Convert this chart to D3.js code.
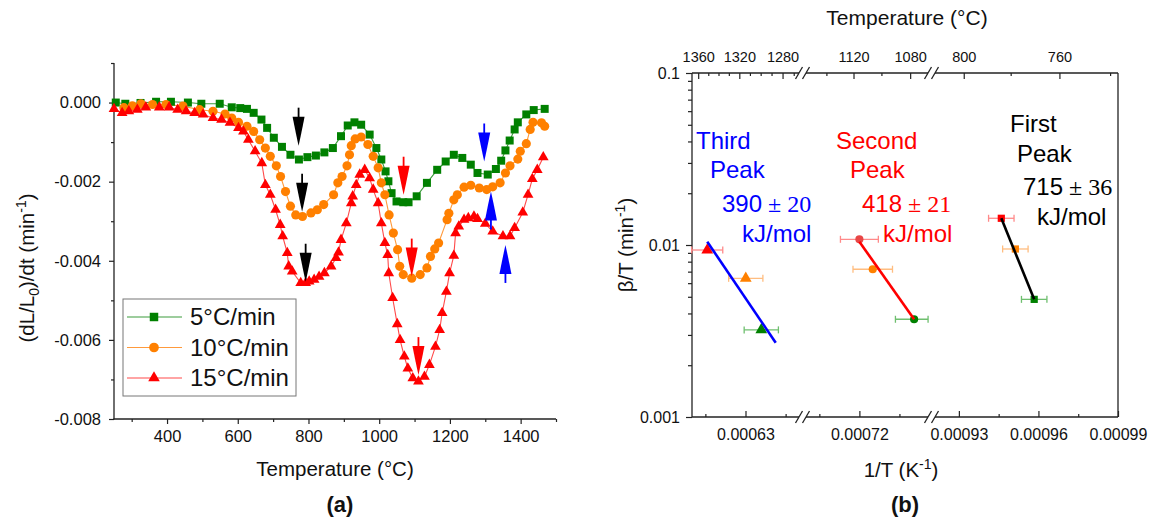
<!DOCTYPE html>
<html>
<head>
<meta charset="utf-8">
<script src="https://cdn.jsdelivr.net/npm/d3@7"></script>
<style>
  body { margin: 0; background: #fff; }
  svg { display: block; }
</style>
</head>
<body>
<svg id="chart" width="1152" height="525"></svg>
<script>
// ---------- data: panel (a), [temperature °C, (dL/L0)/dt] ----------
const rate5 = [[255,0],[282,-0.00003],[325,-0.00001],[369,0.00002],[411,0.00002],[459,0],[497,-0.00003],[549,-0.00003],
  [583,-0.00012],[607,-0.00014],[626,-0.00016],[645,-0.00026],[667,-0.00043],[683,-0.00064],[702,-0.00089],[725,-0.00112],
  [749,-0.00132],[773,-0.00144],[797,-0.00138],[821,-0.00134],[845,-0.00126],[869,-0.00115],[892,-0.00085],[911,-0.00058],
  [930,-0.0005],[949,-0.00056],[973,-0.00081],[992,-0.00115],[1006,-0.00144],[1018,-0.00174],[1026,-0.00199],[1035,-0.00229],
  [1049,-0.0025],[1068,-0.00252],[1083,-0.00252],[1106,-0.00237],[1135,-0.00203],[1164,-0.0017],[1188,-0.00149],[1211,-0.00132],
  [1235,-0.0014],[1259,-0.00157],[1278,-0.00178],[1307,-0.00182],[1330,-0.00168],[1345,-0.00147],[1357,-0.00121],[1369,-0.00096],
  [1383,-0.00068],[1392,-0.0005],[1416,-0.0003],[1437,-0.00019],[1468,-0.00016]];

const rate10 = [[278,-0.00013],[302,-0.00008],[326,-0.00003],[359,-0.00005],[397,-0.00005],[445,-0.00009],[492,-0.00018],
  [530,-0.00022],[564,-0.00029],[583,-0.00039],[602,-0.0005],[626,-0.0006],[645,-0.00073],[662,-0.00094],[678,-0.00115],
  [692,-0.00136],[709,-0.0016],[721,-0.00187],[735,-0.00225],[749,-0.00262],[764,-0.00284],[783,-0.00288],[807,-0.00279],
  [825,-0.00271],[843,-0.00258],[871,-0.00233],[883,-0.00203],[895,-0.00187],[909,-0.0016],[916,-0.00132],[921,-0.00109],
  [932,-0.00092],[949,-0.00087],[968,-0.00106],[983,-0.00136],[997,-0.00165],[1006,-0.00203],[1016,-0.00233],[1028,-0.00284],
  [1040,-0.0033],[1052,-0.00372],[1058,-0.00414],[1068,-0.00435],[1092,-0.00444],[1116,-0.00435],[1135,-0.00418],
  [1145,-0.00389],[1157,-0.0037],[1168,-0.00355],[1192,-0.00296],[1197,-0.0028],[1211,-0.00246],[1221,-0.00233],
  [1240,-0.00214],[1259,-0.00209],[1283,-0.00216],[1304,-0.0022],[1321,-0.00213],[1342,-0.00203],[1357,-0.00178],
  [1370,-0.0016],[1392,-0.00143],[1399,-0.00123],[1416,-0.00104],[1427,-0.00068],[1435,-0.0005],[1459,-0.00051],[1468,-0.0006]];

const rate15 = [[250,-0.00016],[273,-0.00026],[292,-0.00022],[316,-0.00018],[340,-0.00012],[378,-0.00012],[406,-0.00012],
  [430,-0.00018],[454,-0.00022],[478,-0.00026],[502,-0.0003],[530,-0.00039],[554,-0.00043],[578,-0.00051],[602,-0.00064],
  [616,-0.00073],[630,-0.00094],[649,-0.00123],[668,-0.00153],[678,-0.00208],[692,-0.00233],[707,-0.00271],[720,-0.00309],
  [727,-0.00338],[740,-0.0038],[744,-0.00414],[754,-0.00427],[778,-0.00456],[792,-0.00456],[802,-0.00452],[816,-0.00448],
  [830,-0.0044],[845,-0.00431],[864,-0.00414],[878,-0.00393],[885,-0.00379],[892,-0.00347],[907,-0.00305],[921,-0.00254],
  [925,-0.00237],[935,-0.00208],[945,-0.00182],[959,-0.0017],[973,-0.00191],[983,-0.0022],[997,-0.00254],[1006,-0.00305],
  [1016,-0.00355],[1024,-0.00385],[1027,-0.00431],[1038,-0.00494],[1051,-0.0056],[1059,-0.006],[1071,-0.00642],
  [1081,-0.00672],[1095,-0.00697],[1111,-0.00705],[1128,-0.00693],[1142,-0.00663],[1159,-0.00617],[1171,-0.00575],
  [1178,-0.00532],[1190,-0.00478],[1199,-0.00431],[1211,-0.00387],[1216,-0.0033],[1225,-0.00313],[1240,-0.00296],
  [1252,-0.00292],[1268,-0.00288],[1278,-0.00294],[1300,-0.00306],[1321,-0.00326],[1350,-0.00338],[1370,-0.00338],
  [1383,-0.00317],[1406,-0.00278],[1421,-0.00233],[1433,-0.00193],[1447,-0.0017],[1464,-0.00138]];

// peak arrows: [temperature, tip value, direction (1 = points down, -1 = points up)]
const arrowsBlack = [[772,-0.00109,1],[782,-0.00276,1],[792,-0.00453,1]];
const arrowsRed   = [[1069,-0.00233,1],[1092,-0.0044,1],[1111,-0.00689,1]];
const arrowsBlue  = [[1297,-0.00149,1],[1316,-0.00225,-1],[1357,-0.0036,-1]];

const xTicksA = [400,600,800,1000,1200,1400];
const xMinorA = [300,500,700,900,1100,1300,1500];
const yTicksA = [0,-0.002,-0.004,-0.006,-0.008];
const yMinorA = [0.001,-0.001,-0.003,-0.005,-0.007];
const legendLabels = ["5°C/min","10°C/min","15°C/min"];

// ---------- data: panel (b), Kissinger-type plot ----------
// 1/T (K^-1), beta/T (min^-1), half-width of the 1/T error bar
const thirdX = [0.0006157, 0.0006301, 0.0006359];
const thirdY = [0.00935, 0.0064, 0.00321];
const thirdErr = [0.0000058, 0.0000064, 0.0000064];
const secondX = [0.00072, 0.000725, 0.0007405];
const secondY = [0.01079, 0.00723, 0.0037];
const secondErr = [0.0000071, 0.0000074, 0.000007];
const firstX = [0.000946, 0.0009513, 0.0009584];
const firstY = [0.0143, 0.00948, 0.00483];
const firstErr = [0.0000048, 0.0000048, 0.0000048];
// fitted lines, end points
const thirdFit = [[0.0006157, 0.01045],[0.0006413, 0.0027]];
const secondFit = [[0.00072, 0.01045],[0.0007405, 0.0037]];
const firstFit = [[0.000946, 0.0143],[0.0009584, 0.00483]];

const xTicksB = [0.00063, 0.00072, 0.00093, 0.00096, 0.00099];
const xMinorB = [0.000615, 0.000645, 0.000705, 0.000735, 0.000945, 0.000975];
const tempLabels = [1360, 1320, 1280, 1120, 1080, 800, 760];
const tempMinor = [1350,1340,1330,1310,1300,1290,1270,1140,1100,780,740];

const SANS = '"Liberation Sans", Arial, sans-serif';
const SERIF = '"Liberation Serif", "Times New Roman", serif';
const rateColors = ["#008000", "#ff8000", "#ff0000"];
const lineColors = ["#3c9c3c", "#ff9a3c", "#ff4a4a"];
const barColors = ["#ff8a8a", "#ffbd80", "#6fbf6f"];

const svg = d3.select("#chart");

function styleAxis(g, size) {
  g.selectAll("path.domain").remove();
  g.selectAll("line").attr("stroke", "#222").attr("stroke-width", 1.2);
  g.selectAll("text").style("font-family", SANS).style("font-size", size + "px").attr("fill", "#111");
}

// ================= panel (a) =================
const xA = d3.scaleLinear().domain([250, 1500]).range([114, 556]);
const yA = d3.scaleLinear().domain([-0.008, 0.001]).range([419, 63]);
const gA = svg.append("g");

gA.append("g").attr("transform", "translate(114,0)")
  .call(d3.axisLeft(yA).tickValues(yTicksA).tickSize(5).tickPadding(8).tickFormat(d => d.toFixed(3)))
  .call(g => styleAxis(g, 16.5));
gA.append("g").attr("transform", "translate(114,0)")
  .call(d3.axisLeft(yA).tickValues(yMinorA).tickSize(3).tickFormat(""))
  .call(g => styleAxis(g, 16));
gA.append("g").attr("transform", "translate(0,419)")
  .call(d3.axisBottom(xA).tickValues(xTicksA).tickSize(5).tickPadding(6).tickFormat(d3.format("d")))
  .call(g => styleAxis(g, 16.5));
gA.append("g").attr("transform", "translate(0,419)")
  .call(d3.axisBottom(xA).tickValues(xMinorA).tickSize(3).tickFormat(""))
  .call(g => styleAxis(g, 16));
gA.append("line").attr("x1", 114).attr("x2", 114).attr("y1", yA.range()[1]).attr("y2", 419.6)
  .attr("stroke", "#222").attr("stroke-width", 1.3);
gA.append("line").attr("x1", 113.4).attr("x2", xA.range()[1]).attr("y1", 419).attr("y2", 419)
  .attr("stroke", "#222").attr("stroke-width", 1.3);

const symbols = [d3.symbolSquare, d3.symbolCircle, d3.symbolTriangle];
const symSizes = [64, 66, 50];
const line = d3.line().x(d => xA(d[0])).y(d => yA(d[1]));

[rate5, rate10, rate15].forEach((data, i) => {
  gA.append("path").datum(data).attr("d", line)
    .attr("fill", "none").attr("stroke", lineColors[i]).attr("stroke-width", 1.1);
});
[rate5, rate10, rate15].forEach((data, i) => {
  gA.append("g").selectAll("path").data(data).enter().append("path")
    .attr("transform", d => `translate(${xA(d[0])},${yA(d[1])})`)
    .attr("d", d3.symbol().type(symbols[i]).size(symSizes[i]))
    .attr("fill", rateColors[i]);
});

// arrows pointing at the peaks: thin shaft + long narrow head
function drawArrow(g, x, yTip, dir, color) {
  const len = 38, head = 29, hw = 6;
  g.append("line").attr("x1", x).attr("x2", x)
    .attr("y1", yTip - dir * len).attr("y2", yTip - dir * (head - 1))
    .attr("stroke", color).attr("stroke-width", 1.8);
  g.append("path")
    .attr("d", `M${x - hw},${yTip - dir * head} Q${x - 2.6},${yTip - dir * head * 0.4} ${x},${yTip}` +
               ` Q${x + 2.6},${yTip - dir * head * 0.4} ${x + hw},${yTip - dir * head} Z`)
    .attr("fill", color);
}
const arrowG = gA.append("g");
[[arrowsBlack, "#000"], [arrowsRed, "#ff0000"], [arrowsBlue, "#0000ff"]].forEach(([list, color]) => {
  list.forEach(a => drawArrow(arrowG, xA(a[0]), yA(a[1]), a[2], color));
});

// legend
const leg = gA.append("g").attr("transform", "translate(123,299)");
leg.append("rect").attr("width", 173).attr("height", 97)
  .attr("fill", "#fff").attr("stroke", "#777").attr("stroke-width", 1);
legendLabels.forEach((lab, i) => {
  const y = 18 + i * 30.5;
  leg.append("line").attr("x1", 4).attr("x2", 59).attr("y1", y).attr("y2", y)
    .attr("stroke", lineColors[i]).attr("stroke-width", 1.1);
  leg.append("path").attr("transform", `translate(31,${y})`)
    .attr("d", d3.symbol().type(symbols[i]).size(symSizes[i] + 8)).attr("fill", rateColors[i]);
  leg.append("text").attr("x", 67).attr("y", y).attr("dy", "0.35em")
    .style("font-family", SANS).style("font-size", "24px").attr("fill", "#111").text(lab);
});

// titles
const yTitleA = gA.append("text").attr("transform", "translate(27,268) rotate(-90)")
  .attr("text-anchor", "middle").attr("dy", "0.35em")
  .style("font-family", SANS).style("font-size", "20.5px").attr("fill", "#111");
yTitleA.append("tspan").text("(dL/L");
yTitleA.append("tspan").attr("dy", 5).style("font-size", "14px").text("0");
yTitleA.append("tspan").attr("dy", -5).text(")/dt (min");
yTitleA.append("tspan").attr("dy", -8).style("font-size", "14px").text("-1");
yTitleA.append("tspan").attr("dy", 8).text(")");

gA.append("text").attr("x", 335).attr("y", 476).attr("text-anchor", "middle")
  .style("font-family", SANS).style("font-size", "20.5px").attr("fill", "#111").text("Temperature (°C)");
gA.append("text").attr("x", 340).attr("y", 512).attr("text-anchor", "middle")
  .style("font-family", SANS).style("font-size", "22px").style("font-weight", "bold").attr("fill", "#111").text("(a)");

// ================= panel (b) =================
// broken 1/T axis: three linear pieces
const xB = d3.scaleLinear()
  .domain([0.00061, 0.00065, 0.0007, 0.0007457, 0.000921, 0.00099])
  .range([692, 799, 806, 928, 935, 1118]);
const yB = d3.scaleLog().domain([0.001, 0.1]).range([417, 73]);
const gB = svg.append("g");
const plotTop = 73, plotBottom = 417, plotLeft = 692, plotRight = 1118;
const pieces = [[692, 799], [806, 928], [935, 1118]];

function axisLineWithBreaks(y) {
  pieces.forEach(p => {
    gB.append("line").attr("x1", p[0]).attr("x2", p[1]).attr("y1", y).attr("y2", y)
      .attr("stroke", "#222").attr("stroke-width", 1.3);
  });
  [799, 806, 928, 935].forEach(x => {
    gB.append("line").attr("x1", x - 3.5).attr("x2", x + 3.5).attr("y1", y + 6).attr("y2", y - 6)
      .attr("stroke", "#222").attr("stroke-width", 1.3);
  });
}
axisLineWithBreaks(plotBottom);
axisLineWithBreaks(plotTop);
gB.append("line").attr("x1", plotLeft).attr("x2", plotLeft).attr("y1", plotTop).attr("y2", plotBottom)
  .attr("stroke", "#222").attr("stroke-width", 1.3);
gB.append("line").attr("x1", plotRight).attr("x2", plotRight).attr("y1", plotTop).attr("y2", plotBottom)
  .attr("stroke", "#222").attr("stroke-width", 1.3);

gB.append("g").attr("transform", `translate(0,${plotBottom})`)
  .call(d3.axisBottom(xB).tickValues(xTicksB).tickSizeInner(-6).tickSizeOuter(0).tickPadding(12)
    .tickFormat(d => d.toFixed(5)))
  .call(g => styleAxis(g, 16));
gB.append("g").attr("transform", `translate(0,${plotBottom})`)
  .call(d3.axisBottom(xB).tickValues(xMinorB).tickSizeInner(-3).tickSizeOuter(0).tickFormat(""))
  .call(g => styleAxis(g, 16));

const toInvK = t => 1 / (t + 273.15);
gB.append("g").attr("transform", `translate(0,${plotTop})`)
  .call(d3.axisTop(xB).tickValues(tempLabels.map(toInvK)).tickSizeInner(-6).tickSizeOuter(0).tickPadding(11)
    .tickFormat(d => Math.round(1 / d - 273.15)))
  .call(g => styleAxis(g, 14.5));
gB.append("g").attr("transform", `translate(0,${plotTop})`)
  .call(d3.axisTop(xB).tickValues(tempMinor.map(toInvK)).tickSizeInner(-3).tickSizeOuter(0).tickFormat(""))
  .call(g => styleAxis(g, 14));

const yMinorB = [];
[0.001, 0.01].forEach(dec => { for (let k = 2; k <= 9; k++) yMinorB.push(k * dec); });
gB.append("g").attr("transform", `translate(${plotLeft},0)`)
  .call(d3.axisLeft(yB).tickValues([0.1, 0.01, 0.001]).tickSize(6).tickPadding(6).tickFormat(d => String(d)))
  .call(g => styleAxis(g, 16));
gB.append("g").attr("transform", `translate(${plotLeft},0)`)
  .call(d3.axisLeft(yB).tickValues(yMinorB).tickSize(4).tickFormat(""))
  .call(g => styleAxis(g, 16));

// error bars and points: order of each array is 15, 10, 5 °C/min
const pointColors = [["#ff0000", "#ff8000", "#008000"], ["#e84646", "#ff8000", "#008000"], ["#ff0000", "#ff8000", "#008000"]];
const peakSets = [
  [thirdX, thirdY, thirdErr, d3.symbolTriangle, 60],
  [secondX, secondY, secondErr, d3.symbolCircle, 52],
  [firstX, firstY, firstErr, d3.symbolSquare, 52]
];
peakSets.forEach(([xs, ys, errs]) => {
  xs.forEach((xv, i) => {
    const y = yB(ys[i]), x0 = xB(xv - errs[i]), x1 = xB(xv + errs[i]);
    const c = barColors[i];
    gB.append("line").attr("x1", x0).attr("x2", x1).attr("y1", y).attr("y2", y).attr("stroke", c).attr("stroke-width", 1.3);
    gB.append("line").attr("x1", x0).attr("x2", x0).attr("y1", y - 3.5).attr("y2", y + 3.5).attr("stroke", c).attr("stroke-width", 1.3);
    gB.append("line").attr("x1", x1).attr("x2", x1).attr("y1", y - 3.5).attr("y2", y + 3.5).attr("stroke", c).attr("stroke-width", 1.3);
  });
});
peakSets.forEach(([xs, ys, errs, sym, size], s) => {
  gB.append("g").selectAll("path").data(xs).enter().append("path")
    .attr("transform", (d, i) => `translate(${xB(d)},${yB(ys[i])})`)
    .attr("d", d3.symbol().type(sym).size(size))
    .attr("fill", (d, i) => pointColors[s][i]);
});
// fitted lines
const fitLine = d3.line().x(d => xB(d[0])).y(d => yB(d[1]));
[[thirdFit, "#0000ff"], [secondFit, "#ff0000"], [firstFit, "#000000"]].forEach(([pts, color]) => {
  gB.append("path").datum(pts).attr("d", fitLine).attr("fill", "none")
    .attr("stroke", color).attr("stroke-width", 2.6);
});

// peak annotations
function note(x, y, color, parts) {
  const t = gB.append("text").attr("x", x).attr("y", y).attr("fill", color)
    .style("font-family", SANS).style("font-size", "24px");
  parts.forEach(p => t.append("tspan").style("font-family", p[1] ? SERIF : SANS).text(p[0]));
}
note(696, 149, "#0000ff", [["Third"]]);
note(710, 178, "#0000ff", [["Peak"]]);
note(722, 212, "#0000ff", [["390"], [" \u00b1 20", true]]);
note(742, 242, "#0000ff", [["kJ/mol"]]);
note(836, 149, "#ff0000", [["Second"]]);
note(850, 178, "#ff0000", [["Peak"]]);
note(862, 212, "#ff0000", [["418"], [" \u00b1 21", true]]);
note(883, 242, "#ff0000", [["kJ/mol"]]);
note(1010, 132, "#000000", [["First"]]);
note(1017, 162, "#000000", [["Peak"]]);
note(1023, 195, "#000000", [["715"], [" \u00b1 36", true]]);
note(1037, 225, "#000000", [["kJ/mol"]]);

// titles
const yTitleB = gB.append("text").attr("transform", "translate(626,245) rotate(-90)")
  .attr("text-anchor", "middle").attr("dy", "0.35em")
  .style("font-family", SANS).style("font-size", "20.5px").attr("fill", "#111");
yTitleB.append("tspan").text("\u03b2/T (min");
yTitleB.append("tspan").attr("dy", -8).style("font-size", "14px").text("-1");
yTitleB.append("tspan").attr("dy", 8).text(")");

const xTitleB = gB.append("text").attr("x", 901).attr("y", 477).attr("text-anchor", "middle")
  .style("font-family", SANS).style("font-size", "20.5px").attr("fill", "#111");
xTitleB.append("tspan").text("1/T (K");
xTitleB.append("tspan").attr("dy", -8).style("font-size", "14px").text("-1");
xTitleB.append("tspan").attr("dy", 8).text(")");

gB.append("text").attr("x", 907).attr("y", 25).attr("text-anchor", "middle")
  .style("font-family", SANS).style("font-size", "21px").attr("fill", "#111").text("Temperature (°C)");
gB.append("text").attr("x", 905).attr("y", 512).attr("text-anchor", "middle")
  .style("font-family", SANS).style("font-size", "22px").style("font-weight", "bold").attr("fill", "#111").text("(b)");
</script>
</body>
</html>
